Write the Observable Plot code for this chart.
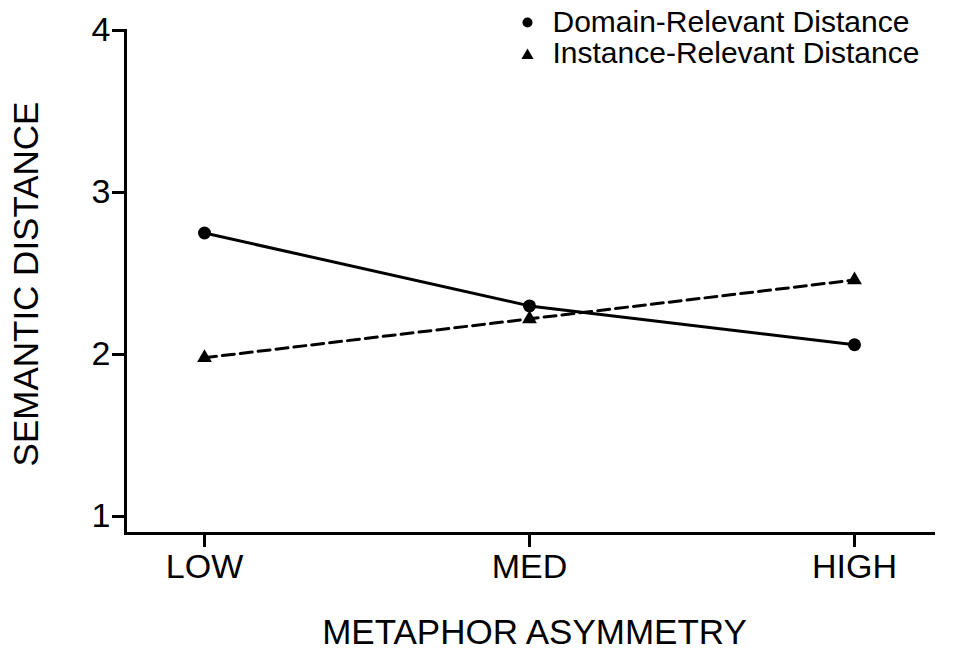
<!DOCTYPE html>
<html>
<head>
<meta charset="utf-8">
<script src="https://cdn.jsdelivr.net/npm/d3@7"></script>
<script src="https://cdn.jsdelivr.net/npm/@observablehq/plot@0.6"></script>
<style>
  html, body { margin: 0; padding: 0; background: #fff; }
  #chart { width: 964px; height: 653px; }
</style>
</head>
<body>
<div id="chart"></div>
<script>
const categories = ["LOW", "MED", "HIGH"];
const domainValues = [2.75, 2.30, 2.06];
const instanceValues = [1.98, 2.22, 2.46];
const seriesNames = ["Domain-Relevant Distance", "Instance-Relevant Distance"];
const yTicks = [1, 2, 3, 4];
const xTitle = "METAPHOR ASYMMETRY";
const yTitle = "SEMANTIC DISTANCE";

const domainRows = categories.map((c, i) => ({cat: c, value: domainValues[i]}));
const instanceRows = categories.map((c, i) => ({cat: c, value: instanceValues[i]}));

const FONT = "Liberation Sans, Arial, sans-serif";

const chart = Plot.plot({
  width: 964,
  height: 653,
  marginLeft: 125,
  marginRight: 31,
  marginTop: 30,
  marginBottom: 120,
  style: {fontFamily: FONT, background: "white", color: "black", overflow: "visible"},
  x: {type: "point", domain: categories, padding: 0.24, label: null},
  y: {domain: [0.895, 4], label: null},
  marks: [
    Plot.axisY({ticks: yTicks, tickFormat: d3.format("d"), tickSize: 13, tickPadding: 2, strokeWidth: 3, fontSize: 34, label: null}),
    Plot.axisX({tickSize: 14, tickPadding: 6, strokeWidth: 3, fontSize: 34, label: null}),
    Plot.frame({anchor: "left", strokeWidth: 3}),
    Plot.frame({anchor: "bottom", strokeWidth: 3}),
    Plot.line(domainRows, {x: "cat", y: "value", stroke: "black", strokeWidth: 3}),
    Plot.line(instanceRows, {x: "cat", y: "value", stroke: "black", strokeWidth: 3, strokeDasharray: "12,6"}),
    Plot.dot(domainRows, {x: "cat", y: "value", r: 6.5, fill: "black", symbol: "circle"}),
    Plot.dot(instanceRows, {x: "cat", y: "value", r: 5.5, fill: "black", symbol: "triangle"}),
    // axis titles
    Plot.text([xTitle], {frameAnchor: "bottom", textAnchor: "middle", lineAnchor: "middle", dx: 5, dy: 99, fontSize: 35}),
    Plot.text([yTitle], {frameAnchor: "left", textAnchor: "middle", lineAnchor: "middle", rotate: -90, dx: -99, dy: 2, fontSize: 35}),
    // legend
    Plot.dot([0], {frameAnchor: "top-left", dx: 527 - 125, dy: 22 - 30, r: 5, fill: "black", symbol: "circle"}),
    Plot.dot([0], {frameAnchor: "top-left", dx: 527 - 125, dy: 55 - 30, r: 4.5, fill: "black", symbol: "triangle"}),
    Plot.text([seriesNames[0]], {frameAnchor: "top-left", textAnchor: "start", lineAnchor: "middle", dx: 552 - 125, dy: 22 - 30, fontSize: 30}),
    Plot.text([seriesNames[1]], {frameAnchor: "top-left", textAnchor: "start", lineAnchor: "middle", dx: 552 - 125, dy: 53 - 30, fontSize: 30})
  ]
});
document.getElementById("chart").appendChild(chart);
</script>
</body>
</html>
